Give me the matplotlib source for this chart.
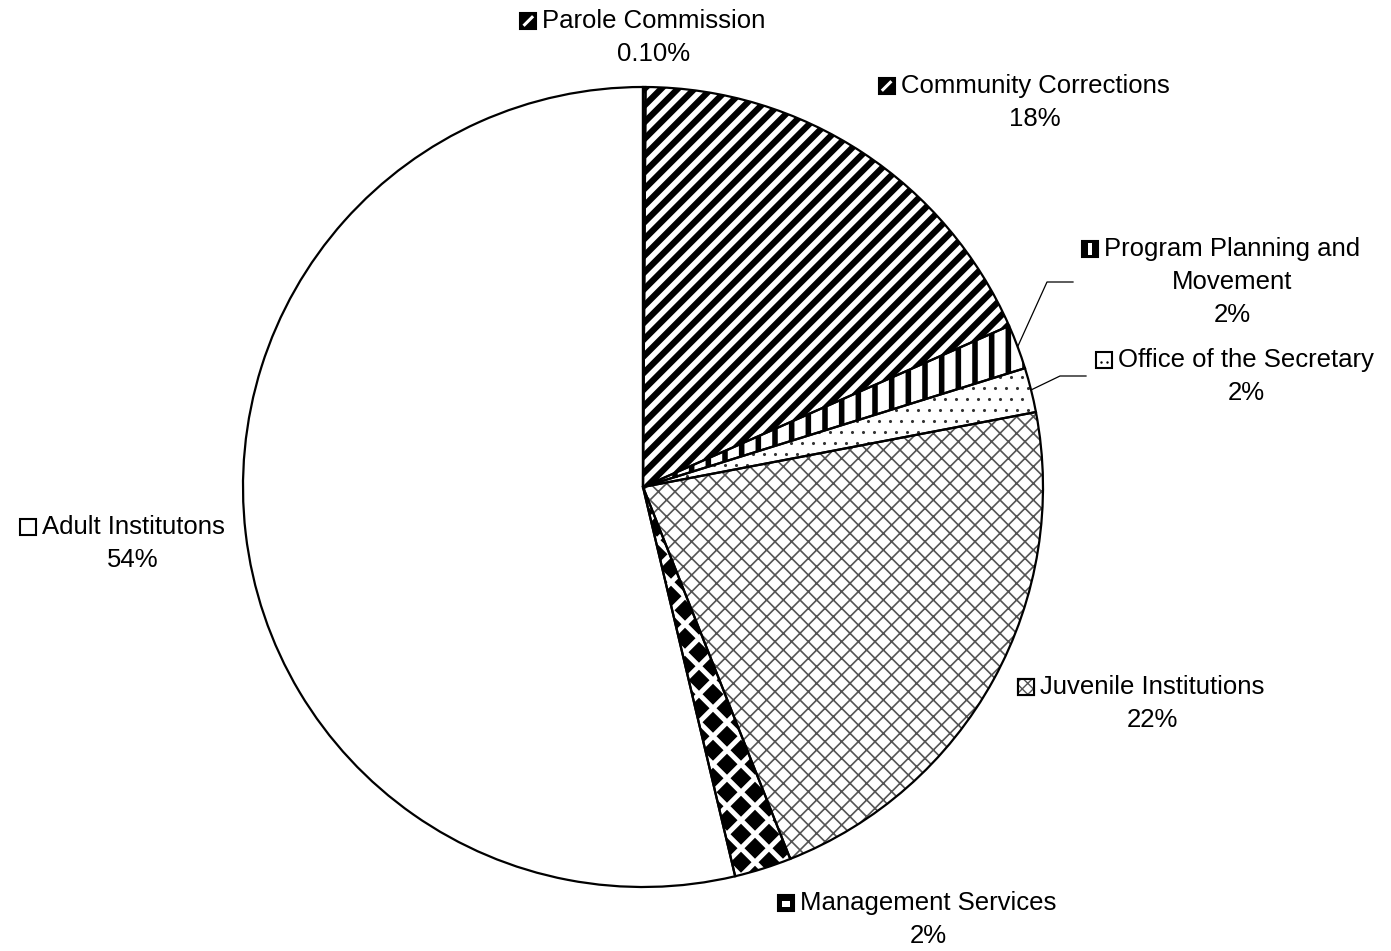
import numpy as np
import matplotlib.pyplot as plt
from matplotlib.patches import Wedge, Rectangle, Polygon
from matplotlib.collections import PatchCollection

plt.rcParams['font.family'] = ['Liberation Sans', 'DejaVu Sans']

# data
names = ['Parole Commission', 'Community Corrections', 'Program Planning and\nMovement',
         'Office of the Secretary', 'Juvenile Institutions', 'Management Services',
         'Adult Institutons']
shares = [0.1, 18.3, 1.8, 1.8, 22.0, 2.3, 53.7]
shown = ['0.10%', '18%', '2%', '2%', '22%', '2%', '54%']

# style per slice
hatches = ['//', '//', '|', None, 'xx', None, None]
hatch_lw = [4.5, 4.5, 4.0, 1.0, 1.2, 1.0, 1.0]
hatch_col = ['black', 'black', 'black', 'black', '#555555', 'black', 'black']

# label layout (pixels): text centre x, first baseline y
lab_x = [654, 1035, 1232, 1246, 1152, 928, 133]
lab_y = [28, 93, 256, 367, 694, 910, 534]
LINE = 33

W, H = 1391, 951
CX, CY, R = 643, 487, 400


def px(x, y):
    return (x - CX) / R, (CY - y) / R


fig = plt.figure(figsize=(W / 100, H / 100), dpi=100)
ax = fig.add_axes([0, 0, 1, 1])
wedges, _ = ax.pie(shares, startangle=90, counterclock=False, radius=1, center=(0, 0),
                   colors=['white'] * len(shares),
                   wedgeprops=dict(linewidth=0, edgecolor='black'))
ax.set_xlim(-CX / R, (W - CX) / R)
ax.set_ylim(-(H - CY) / R, CY / R)
ax.set_aspect('auto')
ax.axis('off')

for w, h, lw, c in zip(wedges, hatches, hatch_lw, hatch_col):
    w.set_edgecolor(c)
    if h:
        w.set_hatch(h)
        if hasattr(w, 'set_hatch_linewidth'):
            w.set_hatch_linewidth(lw)

# dotted pattern for Office of the Secretary
ow = wedges[3]
ext = ow.get_path().get_extents()
sp = 11 / R
gx, gy = [], []
for i, yy in enumerate(np.arange(ext.y0 - sp, ext.y1 + sp, sp)):
    off = (i % 2) * sp / 2
    for xx in np.arange(ext.x0 - sp + off, ext.x1 + sp, sp):
        gx.append(xx)
        gy.append(yy)
dots = ax.scatter(gx, gy, s=5, color='#333333', linewidths=0)
dots.set_clip_path(ow)

# diamond pattern for Management Services
mw = wedges[5]
ext = mw.get_path().get_extents()
s, d = 28 / R, 10.5 / R
diamonds = []
for i, yy in enumerate(np.arange(ext.y0 - s, ext.y1 + s, s / 2)):
    off = (i % 2) * s / 2
    for xx in np.arange(ext.x0 - s + off, ext.x1 + s, s):
        diamonds.append(Polygon([(xx - d, yy), (xx, yy + d), (xx + d, yy), (xx, yy - d)]))
pc = PatchCollection(diamonds, facecolor='black', edgecolor='none')
ax.add_collection(pc)
pc.set_clip_path(mw)

# outlines
for w in wedges:
    ax.add_patch(Wedge((0, 0), w.r, w.theta1, w.theta2, fill=False, ec='black', lw=1.6, zorder=3))

# leader lines for the two thin slices on the right
for k, (ex, ey, tx) in zip([2, 3], [(1047, 282, 1073), (1060, 376, 1086)]):
    w = wedges[k]
    a = np.deg2rad((w.theta1 + w.theta2) / 2)
    x0, y0 = w.r * np.cos(a), w.r * np.sin(a)
    x1, y1 = px(ex, ey)
    x2, _ = px(tx, ey)
    ax.plot([x0, x1, x2], [y0, y1, y1], color='black', lw=0.9, zorder=4)

# labels
firsts = []
for k in range(len(names)):
    lines = names[k].split('\n') + [shown[k]]
    for j, line in enumerate(lines):
        x, y = px(lab_x[k], lab_y[k] + j * LINE)
        t = ax.text(x, y, line, fontsize=18.5, ha='center', va='baseline', color='black')
        if j == 0:
            firsts.append(t)

# small legend keys in front of the first label line
key_face = ['black', 'black', 'black', 'white', 'white', 'black', 'white']
fig.canvas.draw()
rend = fig.canvas.get_renderer()
inv = ax.transData.inverted()
key = 16
for k, t in enumerate(firsts):
    bb = t.get_window_extent(rend)
    kx = bb.x0 - 6 - key
    ky = H - (lab_y[k] + 1)
    (x0, y0) = inv.transform((kx, ky))
    (x1, y1) = inv.transform((kx + key, ky + key))
    kw, kh = x1 - x0, y1 - y0
    ax.add_patch(Rectangle((x0, y0), kw, kh, facecolor=key_face[k], edgecolor='black', lw=1.5))
    if k in (0, 1):
        ax.plot([x0 + 0.2 * kw, x0 + 0.8 * kw], [y0 + 0.2 * kh, y0 + 0.8 * kh],
                color='white', lw=2.2, solid_capstyle='butt')
    elif k == 2:
        ax.add_patch(Rectangle((x0 + 0.38 * kw, y0 + 0.15 * kh), 0.24 * kw, 0.7 * kh,
                               facecolor='white', lw=0))
    elif k == 3:
        ax.scatter([x0 + 0.3 * kw, x0 + 0.7 * kw], [y0 + 0.35 * kh] * 2,
                   s=3, color='black', linewidths=0)
    elif k == 4:
        ax.add_patch(Rectangle((x0, y0), kw, kh, facecolor='white', edgecolor='#555555',
                               lw=0, hatch='xxx'))
        ax.add_patch(Rectangle((x0, y0), kw, kh, fill=False, edgecolor='black', lw=1.5))
    elif k == 5:
        ax.add_patch(Rectangle((x0 + 0.25 * kw, y0 + 0.25 * kh), 0.5 * kw, 0.4 * kh,
                               facecolor='white', lw=0))

fig.savefig('out.png', dpi=100, facecolor='white')
